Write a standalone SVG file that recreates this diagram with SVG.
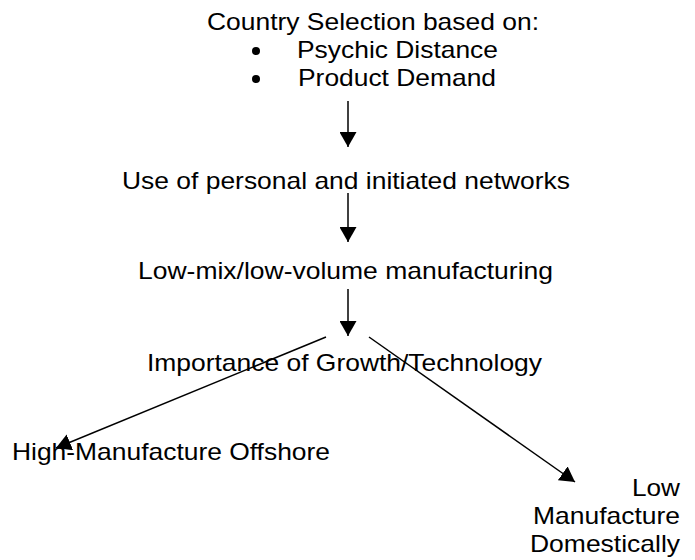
<svg xmlns="http://www.w3.org/2000/svg" width="695" height="560" viewBox="0 0 695 560">
  <style>
    .t { font-family: "Liberation Sans", Arial, sans-serif; font-size: 24px; fill: #000; }
    .c { stroke: #000; stroke-width: 1.5; fill: none; marker-end: url(#head); }
  </style>
  <defs>
    <marker id="head" markerUnits="userSpaceOnUse" markerWidth="15" markerHeight="17" refX="15" refY="8.5" orient="auto">
      <path d="M0,0 L15,8.5 L0,17 Z" fill="#000"/>
    </marker>
  </defs>
  <rect width="695" height="560" fill="#fff"/>

  <g id="country-selection">
    <text class="t" x="207" y="30" textLength="332" lengthAdjust="spacingAndGlyphs">Country Selection based on:</text>
    <circle cx="256" cy="51" r="4" fill="#000"/>
    <text class="t" x="297" y="58" textLength="201" lengthAdjust="spacingAndGlyphs">Psychic Distance</text>
    <circle cx="256" cy="79" r="4" fill="#000"/>
    <text class="t" x="298" y="86" textLength="198" lengthAdjust="spacingAndGlyphs">Product Demand</text>
  </g>

  <g id="networks">
    <text class="t" x="122" y="189" textLength="448" lengthAdjust="spacingAndGlyphs">Use of personal and initiated networks</text>
  </g>

  <g id="manufacturing">
    <text class="t" x="138" y="279" textLength="415" lengthAdjust="spacingAndGlyphs">Low-mix/low-volume manufacturing</text>
  </g>

  <g id="growth-technology">
    <text class="t" x="147" y="371" textLength="395" lengthAdjust="spacingAndGlyphs">Importance of Growth/Technology</text>
  </g>

  <g id="offshore">
    <text class="t" x="12" y="460" textLength="318" lengthAdjust="spacingAndGlyphs">High-Manufacture Offshore</text>
  </g>

  <g id="domestic">
    <text class="t" x="680" y="496" text-anchor="end" textLength="48" lengthAdjust="spacingAndGlyphs">Low</text>
    <text class="t" x="680" y="524" text-anchor="end" textLength="147" lengthAdjust="spacingAndGlyphs">Manufacture</text>
    <text class="t" x="680" y="552" text-anchor="end" textLength="150" lengthAdjust="spacingAndGlyphs">Domestically</text>
  </g>

  <g id="connectors">
    <line class="c" x1="348" y1="101" x2="348" y2="147"/>
    <line class="c" x1="348" y1="193" x2="348" y2="242"/>
    <line class="c" x1="348" y1="289" x2="348" y2="336"/>
    <line class="c" x1="326" y1="337" x2="56" y2="448"/>
    <line class="c" x1="369" y1="337" x2="575" y2="482"/>
  </g>
</svg>
